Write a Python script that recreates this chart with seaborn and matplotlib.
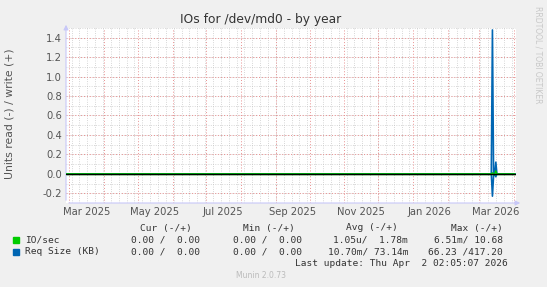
import matplotlib
matplotlib.use("Agg")
import matplotlib.pyplot as plt
import seaborn as sns
import pandas as pd
import numpy as np

# ---- data ----
dates = ["2025-02-26", "2026-03-12", "2026-03-13", "2026-03-14", "2026-03-15",
         "2026-03-16", "2026-03-17", "2026-04-02"]
req_write = [0, 0, 1.48, 0, 0, 0.12, 0, 0]
req_read = [0, 0, 0.23, 0.02, 0, 0.03, 0, 0]
io_write = [0, 0, 0.01, 0, 0, 0.03, 0, 0]
io_read = [0, 0, 0.0, 0, 0, 0.0, 0, 0]

title = "IOs for /dev/md0 - by year"
ylabel = "Units read (-) / write (+)"
yticks = [-0.2, 0.0, 0.2, 0.4, 0.6, 0.8, 1.0, 1.2, 1.4]
month_labels = ["Mar 2025", "May 2025", "Jul 2025", "Sep 2025", "Nov 2025", "Jan 2026", "Mar 2026"]
month_label_dates = ["2025-03-16", "2025-05-16", "2025-07-16", "2025-09-16", "2025-11-16", "2026-01-16", "2026-03-16"]

legend_names = ["IO/sec", "Req Size (KB)"]
legend_colors = ["#00CC00", "#0066B3"]
cur_vals = ["0.00 /  0.00", "0.00 /  0.00"]
min_vals = ["0.00 /  0.00", "0.00 /  0.00"]
avg_vals = ["1.05u/  1.78m", "10.70m/ 73.14m"]
max_vals = ["6.51m/ 10.68", "66.23 /417.20"]
last_update = "Last update: Thu Apr  2 02:05:07 2026"
version = "Munin 2.0.73"

# ---- figure ----
sns.set_theme(style="white")
plt.rcParams['font.family'] = ['DejaVu Sans']
W, H = 547, 287
fig = plt.figure(figsize=(W / 100, H / 100), dpi=100, facecolor="#F0F0F0")
L, R, T, B = 66, 516, 28, 203
ax = fig.add_axes([L / W, 1 - B / H, (R - L) / W, (B - T) / H])
ax.set_facecolor("white")

d = pd.to_datetime(dates)
df = pd.DataFrame({"date": list(d) * 4,
                   "val": io_write + [-v for v in io_read] + req_write + [-v for v in req_read],
                   "series": ["io_w"] * len(d) + ["io_r"] * len(d) + ["req_w"] * len(d) + ["req_r"] * len(d)})
pal = {"io_w": legend_colors[0], "io_r": legend_colors[0], "req_w": legend_colors[1], "req_r": legend_colors[1]}

x0 = pd.Timestamp("2025-02-26")
x1 = pd.Timestamp("2026-04-03")
ax.set_xlim(x0, x1)
ax.set_ylim(-0.3, 1.5)

# grid
for w in pd.date_range("2025-03-03", "2026-04-02", freq="7D"):
    ax.axvline(w, color="#C0C0C0", lw=0.55, ls=(0, (1, 2)), zorder=0.5)
for y in np.arange(-0.3, 1.55, 0.1):
    ax.axhline(y, color="#C0C0C0", lw=0.55, ls=(0, (1, 2)), zorder=0.5)
for m in pd.date_range("2025-03-01", "2026-04-01", freq="MS"):
    ax.axvline(m, color="#E89090", lw=0.7, ls=(0, (1, 2)), zorder=1)
for y in np.arange(-0.2, 1.45, 0.2):
    ax.axhline(y, color="#E89090", lw=0.7, ls=(0, (1, 2)), zorder=1)

sns.lineplot(data=df[df.series.str.startswith("req")], x="date", y="val", hue="series",
             palette=pal, ax=ax, legend=False, lw=1.2, zorder=3, estimator=None, sort=False)
sns.lineplot(data=df[df.series.str.startswith("io")], x="date", y="val", hue="series",
             palette=pal, ax=ax, legend=False, lw=1.0, zorder=4, estimator=None, sort=False)

ax.axhline(0, color="black", lw=1.0, zorder=5)

for s in ax.spines.values():
    s.set_visible(False)
ax.set_xlabel("")
ax.set_ylabel("")
ax.set_yticks(yticks)
ax.set_yticklabels([f"{v:.1f}" for v in yticks], fontsize=7.2, color="#555555")
ax.set_xticks(pd.to_datetime(month_label_dates))
ax.set_xticklabels(month_labels, fontsize=7.2, color="#555555")
ax.tick_params(axis="both", length=0, pad=3)

# axis arrows
ax.annotate("", xy=(523 / W, 1 - B / H), xytext=(L / W, 1 - B / H), xycoords="figure fraction",
            arrowprops=dict(arrowstyle="-|>", color="#C8C8F8", lw=0.8, mutation_scale=7))
ax.annotate("", xy=(L / W, 1 - 22 / H), xytext=(L / W, 1 - B / H), xycoords="figure fraction",
            arrowprops=dict(arrowstyle="-|>", color="#C8C8F8", lw=0.8, mutation_scale=7))

fig.text(261 / W, 1 - 19 / H, title, ha="center", va="center", fontsize=8.8, color="#333333")
fig.text(10 / W, 1 - 114 / H, ylabel, ha="center", va="center", rotation=90, fontsize=7.8, color="#555555")
fig.text(538 / W, 1 - 6 / H, "RRDTOOL / TOBI OETIKER", ha="center", va="top", rotation=-90,
         fontsize=5.5, color="#C8C8C8")

mono = "DejaVu Sans Mono"
fs = 6.8
tc = "#333333"
hy = 1 - 228 / H
for txt, xr in zip(["Cur (-/+)", "Min (-/+)", "Avg (-/+)", "Max (-/+)"], [192, 295, 398, 503]):
    fig.text(xr / W, hy, txt, ha="right", va="center", family=mono, fontsize=fs, color=tc)
for i in range(2):
    yy = 1 - (240 + 12 * i) / H
    fig.patches.append(matplotlib.patches.Rectangle((13 / W, yy - 3 / H), 6 / W, 6 / H,
                       transform=fig.transFigure, color=legend_colors[i]))
    fig.text(25 / W, yy, legend_names[i], ha="left", va="center", family=mono, fontsize=fs, color=tc)
    for txt, xr in zip([cur_vals[i], min_vals[i], avg_vals[i], max_vals[i]], [200, 302, 408, 503]):
        fig.text(xr / W, yy, txt, ha="right", va="center", family=mono, fontsize=fs, color=tc)
fig.text(508 / W, 1 - 264 / H, last_update, ha="right", va="center", family=mono, fontsize=fs, color=tc)
fig.text(261 / W, 1 - 276 / H, version, ha="center", va="center", fontsize=5.5, color="#BBBBBB")

fig.savefig("out.png", dpi=100, facecolor=fig.get_facecolor())
